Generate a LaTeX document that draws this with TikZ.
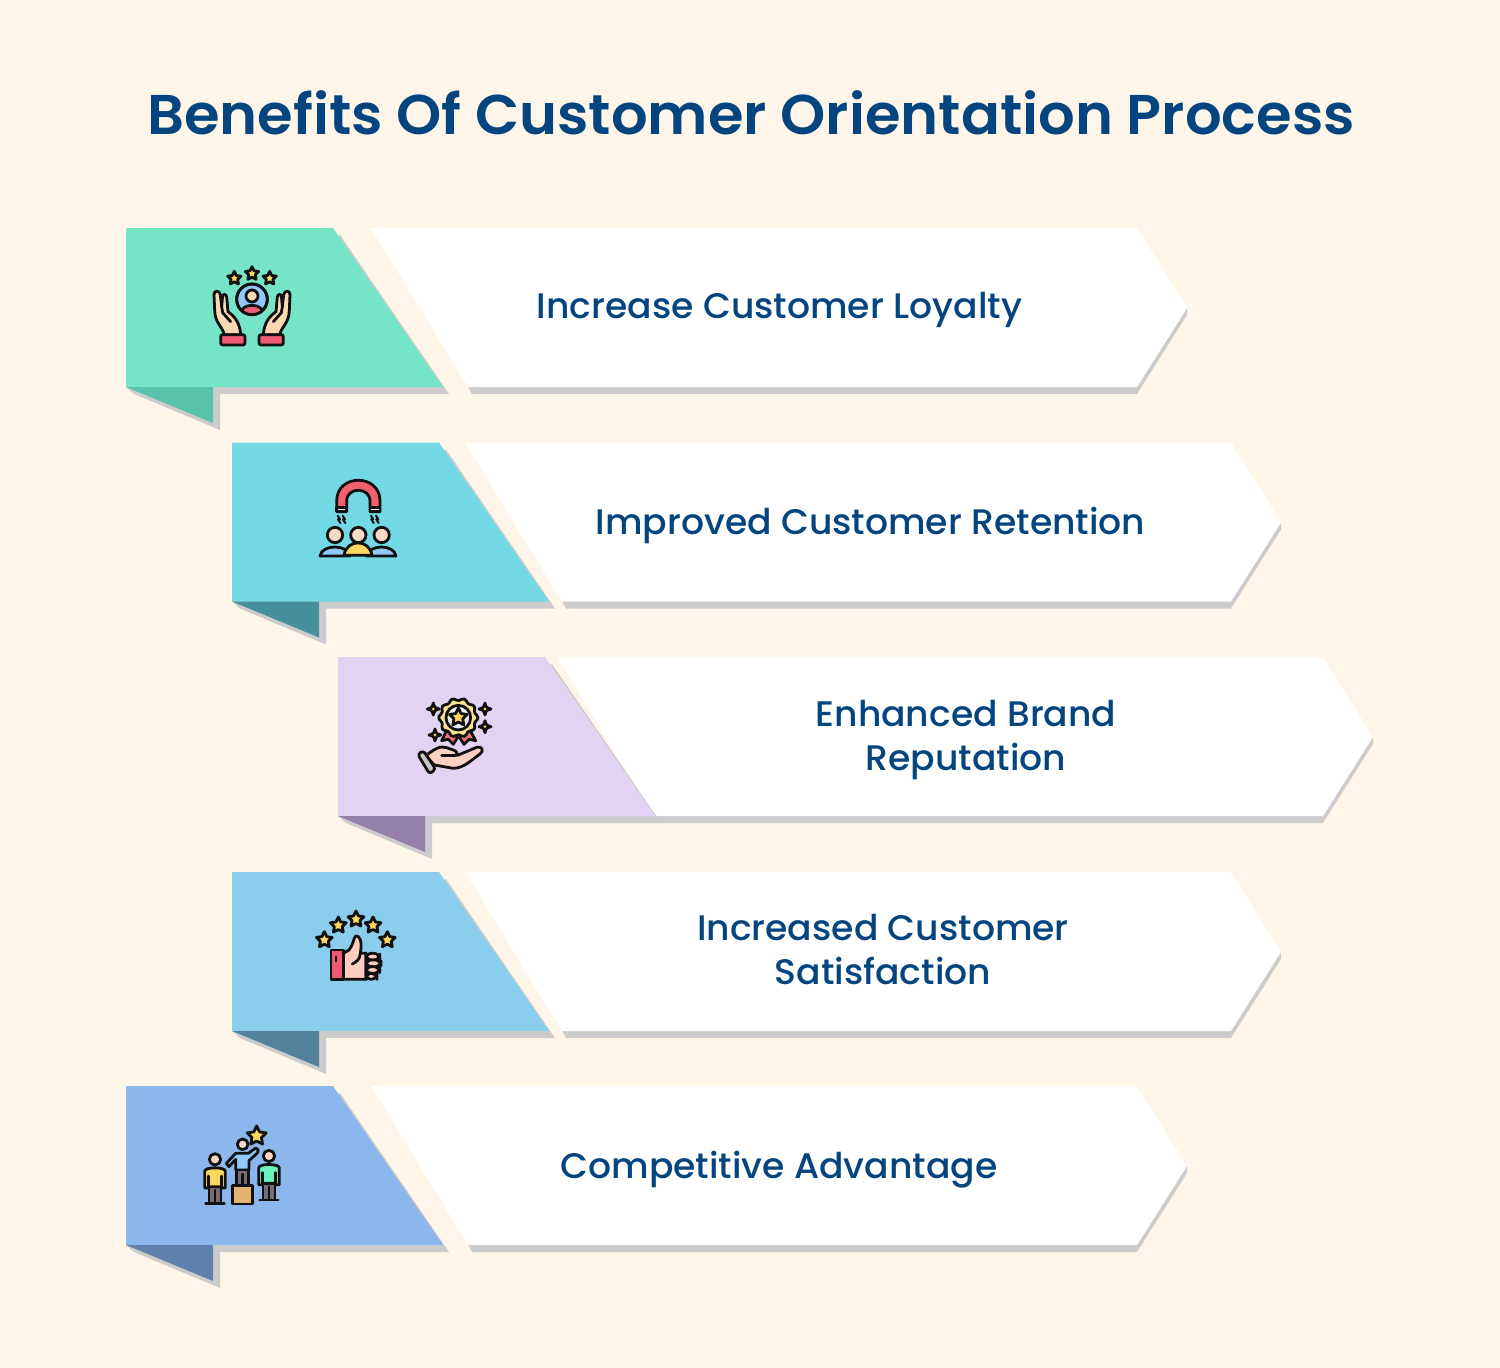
\documentclass[tikz,border=0pt]{standalone}
\usepackage{fontspec}
\setmainfont{Poppins}
\newfontfamily\titlefont[FakeStretch=1.028]{Poppins SemiBold}
\newfontfamily\labelfont[FakeStretch=1.018]{Poppins Medium}
\usetikzlibrary{calc}
\definecolor{bgc}{HTML}{FFF6E9}
\definecolor{shadowc}{HTML}{CCCCCC}
\definecolor{navy}{HTML}{04457F}
\definecolor{ink}{HTML}{111111}
\definecolor{goldc}{HTML}{FDD75E}
\definecolor{redc}{HTML}{EE5A72}
\definecolor{magnetc}{HTML}{F4606E}
\definecolor{ribbonc}{HTML}{F4707E}
\definecolor{skin}{HTML}{FBD8B4}
\definecolor{skinb}{HTML}{F8D9C8}
\definecolor{pinkc}{HTML}{FFCDBF}
\definecolor{bluec}{HTML}{90C8F8}
\definecolor{legc}{HTML}{786D72}
\definecolor{boxc}{HTML}{E2B36F}
\definecolor{greenc}{HTML}{6DF0B9}
\definecolor{rowa}{HTML}{76E4C6}\definecolor{flapa}{HTML}{57C3A8}
\definecolor{rowb}{HTML}{72D9E5}\definecolor{flapb}{HTML}{44919C}
\definecolor{rowc}{HTML}{E3D3F3}\definecolor{flapc}{HTML}{9480A8}
\definecolor{rowd}{HTML}{8BCDEC}\definecolor{flapd}{HTML}{52829C}
\definecolor{rowe}{HTML}{8BB7EC}\definecolor{flape}{HTML}{5F81AC}
\tikzset{
  labeltext/.style={font=\labelfont\fontsize{35.5}{44}\selectfont,text=navy,align=center,inner sep=0pt},
  ic/.style={draw=ink,line width=2.8pt,line join=round,line cap=round},
  zoomed/.style={x=0.3333pt,y=-0.3333pt}
}
% #1 dx of colour part, #2 dx of white part, #3 dy, #4 fill, #5 flap fill
\newcommand\ribbonrow[5]{
  \begin{scope}[yshift=-#3pt]
    \fill[shadowc] (#2+472,394) -- (#2+468,387) -- (#2+1187,308) -- (#2+1187,315) -- (#2+1137,394) -- cycle;
    \fill[white] (#2+371,228) -- (#2+1137,228) -- (#2+1187,308) -- (#2+1137,387) -- (#2+468,387) -- cycle;
    \fill[shadowc] (#1+340,235) -- (#1+449,394) -- (#1+220,394) -- (#1+220,430) -- (#1+134,394) -- (#1+126,387) -- cycle;
    \fill[#4] (#1+126,228) -- (#1+333,228) -- (#1+443,387) -- (#1+126,387) -- cycle;
    \fill[#5] (#1+126,387) -- (#1+213,387) -- (#1+213,423) -- cycle;
  \end{scope}
}
\newcommand\istar[4]{% cx cy r fill
  \draw[ic,fill=#4] ($(#1,#2)+(-90:#3)$) -- ($(#1,#2)+(-54:0.5*#3)$) -- ($(#1,#2)+(-18:#3)$) -- ($(#1,#2)+(18:0.5*#3)$) -- ($(#1,#2)+(54:#3)$) -- ($(#1,#2)+(90:0.5*#3)$) -- ($(#1,#2)+(126:#3)$) -- ($(#1,#2)+(162:0.5*#3)$) -- ($(#1,#2)+(198:#3)$) -- ($(#1,#2)+(234:0.5*#3)$) -- cycle;
}
\newcommand\isparkle[3]{% cx cy r
  \draw[ic,fill=goldc] (#1,#2-#3) .. controls (#1+4,#2-4) .. (#1+#3,#2) .. controls (#1+4,#2+4) .. (#1,#2+#3) .. controls (#1-4,#2+4) .. (#1-#3,#2) .. controls (#1-4,#2-4) .. cycle;
}
\newcommand\handshape{
  \draw[ic,fill=skin] (42,104) .. controls (42,90) and (58,90) .. (61,104) -- (65,140) -- (68,106) .. controls (72,100) and (78,102) .. (80,110) -- (84,155) .. controls (105,170) and (120,190) .. (122,224) -- (72,224) .. controls (72,205) and (44,190) .. (44,150) -- cycle;
  \draw[ic] (65,140) -- (68,158) -- (92,185);
  \draw[ic,fill=redc,rounded corners=2pt] (62,224) rectangle (135,255);
}
\newcommand\standperson[6]{% cx, shoulder y, torso bottom, feet y, head y, fill
  \draw[ic,fill=legc] (#1-18,#3) rectangle (#1+18,#4);
  \draw[ic] (#1,#3+10) -- (#1,#4);
  \draw[ic,fill=#6] (#1-31,#3+4) -- (#1-31,#2+8) .. controls (#1-31,#2-6) and (#1+31,#2-6) .. (#1+31,#2+8) -- (#1+31,#3+4) -- (#1+20,#3+4) -- (#1+20,#3) -- (#1-20,#3) -- (#1-20,#3+4) -- cycle;
  \draw[ic] (#1-20,#2+22) -- (#1-20,#3);
  \draw[ic] (#1+20,#2+22) -- (#1+20,#3);
  \draw[ic] (#1-28,#4) -- (#1+28,#4);
  \draw[ic,fill=skinb] (#1,#5) circle (17);
}
\begin{document}
\begin{tikzpicture}[x=1pt,y=-1pt]
\useasboundingbox (0,0) rectangle (1500,1368);
\fill[bgc] (0,0) rectangle (1500,1368);

\node[font=\titlefont\fontsize{56}{60}\selectfont,text=navy,inner sep=0pt,anchor=base] (title) at (751,134) {Benefits Of Customer Orientation Process};

\ribbonrow{0}{0}{0}{rowa}{flapa}
\ribbonrow{106}{94}{214.5}{rowb}{flapb}
\ribbonrow{212}{186}{429}{rowc}{flapc}
\ribbonrow{106}{94}{644}{rowd}{flapd}
\ribbonrow{0}{0}{858}{rowe}{flape}

\node[labeltext] (lone) at (779.5,310) {Increase Customer Loyalty};
\node[labeltext] (ltwo) at (870.5,525) {Improved Customer Retention};
\node[labeltext] (lthree) at (966,740) {Enhanced Brand\\Reputation};
\node[labeltext] (lfour) at (883,950) {Increased Customer\\Satisfaction};
\node[labeltext] (lfive) at (779,1170) {Competitive Advantage};

% icon 1
\begin{scope}[shift={(200,260)},zoomed]
  \istar{103}{55}{21}{goldc}
  \istar{156}{41}{21}{goldc}
  \istar{209}{55}{21}{goldc}
  \draw[ic,fill=bluec] (156,118) circle (46);
  \begin{scope}
    \clip (156,118) circle (44);
    \fill[redc] (120,170) .. controls (122,130) and (190,130) .. (192,170) -- cycle;
    \draw[ic] (122,160) .. controls (124,128) and (188,128) .. (190,160);
  \end{scope}
  \draw[ic,fill=skin] (156,108) circle (18);
  \draw[ic] (156,118) circle (46);
  \handshape
\end{scope}
\begin{scope}[shift={(200+312/3,260)},x=-0.3333pt,y=-0.3333pt]
  \handshape
\end{scope}

% icon 2
\begin{scope}[shift={(300,470)},zoomed]
  \draw[ic,fill=magnetc] (110,125) -- (110,93) .. controls (110,10) and (240,10) .. (240,93) -- (240,125) -- (210,125) -- (210,93) .. controls (210,50) and (140,50) .. (140,93) -- (140,125) -- cycle;
  \draw[ic,fill=white] (110,112) rectangle (140,125);
  \draw[ic,fill=white] (210,112) rectangle (240,125);
  \foreach \bx in {117,132,217,232}{
    \draw[ic,line width=2pt] (\bx-4,137) -- (\bx+3,148) -- (\bx-3,148) -- (\bx+4,159);
  }
  \draw[ic,fill=bluec] (60,258) .. controls (66,222) and (142,222) .. (150,258) -- cycle;
  \draw[ic,fill=bluec] (200,258) .. controls (208,222) and (282,222) .. (288,258) -- cycle;
  \draw[ic,fill=goldc] (132,256) .. controls (140,206) and (208,206) .. (216,256) -- cycle;
  \draw[ic,fill=skinb] (105,195) circle (23);
  \draw[ic,fill=skinb] (245,195) circle (23);
  \draw[ic,fill=skinb] (175,195) circle (23);
\end{scope}

% icon 3
\begin{scope}[shift={(405,685)},zoomed]
  \draw[ic,fill=ribbonc] (128,130) -- (110,167) -- (130,163) -- (145,178) -- (165,145) -- cycle;
  \draw[ic,fill=ribbonc] (192,130) -- (212,167) -- (192,163) -- (177,178) -- (155,145) -- cycle;
  \begin{scope}[shift={(160,98)}]
    \draw[ic,fill=goldc!70!white] plot[smooth cycle,domain=0:352,samples=45] ({(55+4*cos(10*\x))*cos(\x)},{(55+4*cos(10*\x))*sin(\x)});
    \draw[ic,fill=white!92!black] (0,0) circle (37);
  \end{scope}
  \istar{160}{97}{28}{goldc}
  \isparkle{85}{72}{18}
  \isparkle{240}{72}{18}
  \isparkle{240}{125}{18}
  \isparkle{90}{150}{18}
  \draw[ic,fill=pinkc!70!skinb] (62,212) .. controls (85,195) and (105,180) .. (125,188) -- (150,197) .. controls (160,203) and (155,212) .. (145,212) -- (160,210) -- (215,187) .. controls (232,182) and (238,198) .. (225,207) .. controls (200,225) and (175,250) .. (145,250) -- (88,240) -- cycle;
  \draw[ic] (110,212) -- (148,212);
  \draw[ic,fill=black!22,rounded corners=3pt] (38,208) -- (55,197) -- (92,252) -- (74,267) -- cycle;
\end{scope}

% icon 4
\begin{scope}[shift={(305,900)},zoomed]
  \istar{58}{120}{25}{goldc}
  \istar{100}{76}{25}{goldc}
  \istar{153}{58}{25}{goldc}
  \istar{204}{76}{25}{goldc}
  \istar{247}{120}{25}{goldc}
  \draw[ic,fill=pinkc] (115,160) -- (132,150) .. controls (145,135) and (145,115) .. (152,108) .. controls (165,105) and (172,125) .. (166,160) -- (185,160) -- (185,238) -- (115,238) -- cycle;
  \draw[ic,fill=pinkc,rounded corners=6pt] (182,160) rectangle (224,180);
  \draw[ic,fill=pinkc,rounded corners=6pt] (182,180) rectangle (228,200);
  \draw[ic,fill=pinkc,rounded corners=6pt] (182,200) rectangle (224,220);
  \draw[ic,fill=pinkc,rounded corners=6pt] (182,220) rectangle (216,238);
  \draw[ic] (166,160) .. controls (165,178) and (155,185) .. (142,192);
  \draw[ic,fill=redc] (78,150) rectangle (115,238);
  \draw[ic,line width=2pt] (92,170) -- (92,184);
\end{scope}

% icon 5
\begin{scope}[shift={(195,1120)},zoomed]
  \istar{185}{48}{30}{goldc}
  \standperson{60}{146}{200}{250}{118}{goldc}
  % middle person
  \draw[ic,fill=bluec] (122,150) -- (122,118) -- (102,140) -- (94,130) -- (122,100) -- (160,100) -- (182,84) .. controls (190,84) and (192,92) .. (186,100) -- (162,122) -- (162,150) -- cycle;
  \draw[ic,fill=legc] (125,150) rectangle (160,197);
  \draw[ic] (143,162) -- (143,197);
  \draw[ic,fill=skinb] (143,73) circle (16);
  \draw[ic,fill=boxc] (112,197) rectangle (172,252);
  \standperson{222}{136}{190}{240}{108}{greenc}
\end{scope}
\end{tikzpicture}
\end{document}
